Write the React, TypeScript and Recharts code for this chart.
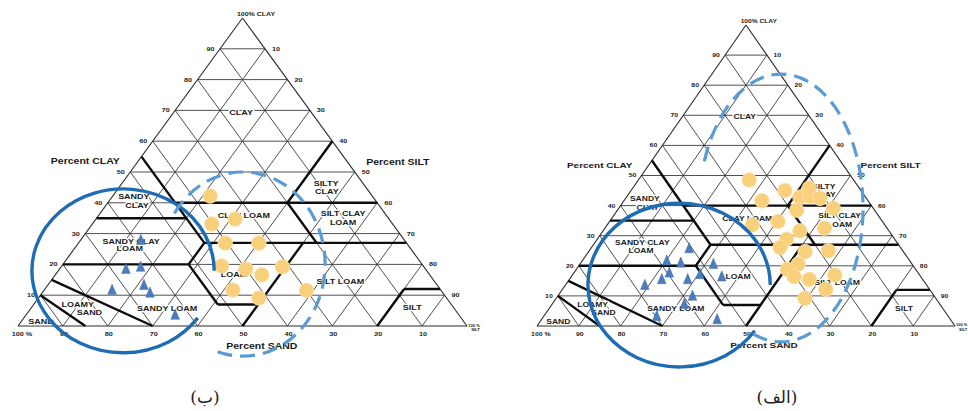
import React from 'react';
import { ScatterChart, Scatter, XAxis, YAxis, ReferenceLine } from 'recharts';

// ---------- data ----------
// percent steps of the triangular grid (clay, silt and sand lines)
const GRID_TICKS = [10, 20, 30, 40, 50, 60, 70, 80, 90];
// sand tick labels along the base
const SAND_TICKS = [100, 90, 80, 70, 60, 50, 40, 30, 20, 10];

// USDA texture-class boundaries: [sand1, clay1, sand2, clay2] (percent)
const BOUNDARIES: [number, number, number, number][] = [
  [0, 60, 20, 40],
  [0, 40, 45, 40],
  [45, 27, 45, 55],
  [45, 35, 65, 35],
  [0, 27, 45, 27],
  [20, 27, 20, 40],
  [52, 20, 45, 27],
  [80, 20, 52, 20],
  [52, 20, 52, 7],
  [52, 7, 43, 7],
  [50, 0, 23, 27],
  [20, 0, 8, 12],
  [8, 12, 0, 12],
  [85, 15, 70, 0],
  [90, 10, 85, 0],
];

// class names, anchored in triangle units (x = silt + clay/2, y = clay)
const CLASS_LABELS = [
  { text: 'CLAY', x: 49.7, y: 69.5 },
  { text: 'SILTY', x: 68.6, y: 46.4 },
  { text: 'CLAY', x: 68.8, y: 43.8 },
  { text: 'SANDY', x: 25.8, y: 42.2 },
  { text: 'CLAY', x: 26.5, y: 39.3 },
  { text: 'CLAY LOAM', x: 50.3, y: 35.8 },
  { text: 'SILT CLAY', x: 72.4, y: 36.6 },
  { text: 'LOAM', x: 72.4, y: 33.7 },
  { text: 'SANDY CLAY', x: 25.2, y: 27.6 },
  { text: 'LOAM', x: 24.9, y: 25.2 },
  { text: 'LOAM', x: 48.1, y: 16.6 },
  { text: 'SILT LOAM', x: 71.8, y: 14.6 },
  { text: 'LOAMY', x: 13.3, y: 7.0 },
  { text: 'SAND', x: 15.9, y: 4.4 },
  { text: 'SANDY LOAM', x: 33.2, y: 5.7 },
  { text: 'SAND', x: 5.1, y: 1.4 },
  { text: 'SILT', x: 87.8, y: 5.9 },
];

const AXIS_TITLES = [
  { text: 'Percent  CLAY', x: 15.0, y: 53.6 },
  { text: 'Percent  SILT', x: 84.6, y: 53.3 },
  { text: 'Percent SAND', x: 54.3, y: -6.5 },
];

// samples: sand %, clay %
const B_CIRCLES = [
  { sand: 36.1, clay: 42.2 }, { sand: 40.3, clay: 33.1 }, { sand: 34.3, clay: 34.7 },
  { sand: 40.4, clay: 26.9 }, { sand: 32.9, clay: 26.9 }, { sand: 44.9, clay: 19.5 },
  { sand: 40.0, clay: 18.5 }, { sand: 37.4, clay: 16.6 }, { sand: 31.5, clay: 19.2 },
  { sand: 46.3, clay: 11.7 }, { sand: 41.8, clay: 9.1 }, { sand: 30.0, clay: 11.5 },
];
const B_TRIANGLES = [
  { sand: 58.7, clay: 27.9 }, { sand: 66.7, clay: 18.5 }, { sand: 63.1, clay: 19.2 },
  { sand: 73.2, clay: 11.7 }, { sand: 65.3, clay: 13.3 }, { sand: 65.2, clay: 10.8 },
  { sand: 63.2, clay: 3.6 },
];
const A_CIRCLES = [
  { sand: 25.0, clay: 48.5 }, { sand: 25.4, clay: 41.6 }, { sand: 18.2, clay: 45.0 },
  { sand: 15.7, clay: 42.8 }, { sand: 13.2, clay: 43.0 }, { sand: 11.1, clay: 42.4 },
  { sand: 12.0, clay: 45.8 }, { sand: 9.6, clay: 39.1 }, { sand: 18.6, clay: 38.5 },
  { sand: 31.7, clay: 33.6 }, { sand: 25.0, clay: 34.7 }, { sand: 21.3, clay: 31.6 },
  { sand: 15.0, clay: 32.5 }, { sand: 25.9, clay: 28.8 }, { sand: 28.8, clay: 26.1 },
  { sand: 23.5, clay: 24.7 }, { sand: 17.8, clay: 25.0 }, { sand: 27.2, clay: 20.6 },
  { sand: 30.7, clay: 18.8 }, { sand: 30.3, clay: 16.4 }, { sand: 27.1, clay: 15.5 },
  { sand: 20.3, clay: 16.9 }, { sand: 24.8, clay: 12.2 }, { sand: 31.3, clay: 9.2 },
];
const A_TRIANGLES = [
  { sand: 50.7, clay: 25.8 }, { sand: 58.1, clay: 21.7 }, { sand: 55.1, clay: 21.0 },
  { sand: 47.5, clay: 20.6 }, { sand: 59.5, clay: 17.7 }, { sand: 62.4, clay: 15.5 },
  { sand: 56.2, clay: 15.5 }, { sand: 52.4, clay: 17.2 }, { sand: 47.6, clay: 16.4 },
  { sand: 67.4, clay: 13.6 }, { sand: 57.8, clay: 10.0 }, { sand: 61.1, clay: 7.3 },
  { sand: 69.7, clay: 3.3 }, { sand: 55.8, clay: 2.2 },
];

// hand-drawn groupings (triangle units, angles in degrees)
const B_ELLIPSES = [
  { x: 23.4, y: 17.9, rx: 20.3, ry: 26.6, from: 0, to: 325, dashed: false },
  { x: 50.1, y: 20.1, rx: 18.3, ry: 29.9, from: -108, to: 149, dashed: true },
];
const A_ELLIPSES = [
  { x: 34.0, y: 13.6, rx: 21.8, ry: 27.2, from: 0, to: 326, dashed: false },
  { x: 58.4, y: 39.2, rx: 19.6, ry: 44.5, from: -110, to: 162, dashed: true },
];

// ---------- layout ----------
const H = 411;
type Geo = { width: number; x0: number; base: number; sx: number; sy: number; k: number };
const GEO_B: Geo = { width: 484, x0: 18, base: 326, sx: 4.49, sy: 3.08, k: 1 };
const GEO_A: Geo = { width: 484, x0: 53, base: 326, sx: 4.18, sy: 3.01, k: 0.95 };
const STRETCH = 1.25;
const FONT = "'Liberation Sans', Arial, Helvetica, sans-serif";

const toXY = (sand: number, clay: number) => ({ x: 100 - sand - clay / 2, y: clay });

type TOpts = { size: number; halo?: boolean; anchor?: 'start' | 'middle' | 'end'; dx?: number; dy?: number; stretch?: number };
const textShape = (o: TOpts) => (p: any) => {
  const { cx, cy, payload } = p;
  if (cx == null || cy == null) return <g />;
  const dx = (o.dx ?? 0) + (payload.dx ?? 0);
  const dy = (o.dy ?? 0) + (payload.dy ?? 0);
  return (
    <text
      transform={`translate(${cx + dx},${cy + dy}) scale(${o.stretch ?? STRETCH},1)`}
      x={0}
      y={o.size * 0.36}
      textAnchor={o.anchor ?? 'middle'}
      fontSize={o.size}
      fontFamily={FONT}
      fontWeight="bold"
      fill="#1b1b1b"
      stroke={o.halo ? '#ffffff' : 'none'}
      strokeWidth={o.halo ? 2.4 : 0}
      strokeLinejoin="round"
      paintOrder="stroke"
    >
      {payload.text}
    </text>
  );
};

const circleShape = (p: any) => {
  const { cx, cy } = p;
  if (cx == null) return <g />;
  return <circle cx={cx} cy={cy} r={7.3} fill="#F8CF7B" stroke="#FBE2AE" strokeWidth={0.8} />;
};

const triShape = (p: any) => {
  const { cx, cy } = p;
  if (cx == null) return <g />;
  return (
    <path
      d={`M${cx},${cy - 5.8} L${cx + 4.3},${cy + 4.4} L${cx - 4.3},${cy + 4.4} Z`}
      fill="#4A7DBA"
      stroke="#3F6FA8"
      strokeWidth={0.5}
    />
  );
};

const ellipseShape = (geo: Geo) => (p: any) => {
  const { cx, cy, payload: e } = p;
  if (cx == null) return <g />;
  const rx = e.rx * geo.sx;
  const ry = e.ry * geo.sy;
  const a1 = (e.from * Math.PI) / 180;
  const a2 = (e.to * Math.PI) / 180;
  const x1 = cx + rx * Math.cos(a1);
  const y1 = cy - ry * Math.sin(a1);
  const x2 = cx + rx * Math.cos(a2);
  const y2 = cy - ry * Math.sin(a2);
  const large = e.to - e.from > 180 ? 1 : 0;
  return (
    <path
      d={`M${x1},${y1} A${rx},${ry} 0 ${large} 0 ${x2},${y2}`}
      fill="none"
      stroke={e.dashed ? '#5B9BD5' : '#1E6DB4'}
      strokeWidth={e.dashed ? 3.2 : 3.4}
      strokeDasharray={e.dashed ? '15 8' : undefined}
      strokeLinecap="butt"
    />
  );
};

type Pt = { sand: number; clay: number };
type Ell = { x: number; y: number; rx: number; ry: number; from: number; to: number; dashed: boolean };

function Ternary({ geo, circles, triangles, ellipses }: { geo: Geo; circles: Pt[]; triangles: Pt[]; ellipses: Ell[] }) {
  const k = geo.k;
  const xDomain = [-geo.x0 / geo.sx, (geo.width - geo.x0) / geo.sx];
  const yDomain = [(geo.base - H) / geo.sy, geo.base / geo.sy];

  const grid: { x: number; y: number }[][] = [];
  GRID_TICKS.forEach((c) => {
    grid.push([{ x: c / 2, y: c }, { x: 100 - c / 2, y: c }]);
    grid.push([{ x: c, y: 0 }, { x: c + (100 - c) / 2, y: 100 - c }]);
    grid.push([{ x: 100 - c, y: 0 }, { x: (100 - c) / 2, y: 100 - c }]);
  });
  const edges = [
    [{ x: 0, y: 0 }, { x: 100, y: 0 }],
    [{ x: 0, y: 0 }, { x: 50, y: 100 }],
    [{ x: 100, y: 0 }, { x: 50, y: 100 }],
  ];
  const bounds = BOUNDARIES.map(([s1, c1, s2, c2]) => [toXY(s1, c1), toXY(s2, c2)]);

  const clayTicks = GRID_TICKS.map((c) => ({ x: c / 2, y: c, text: String(c) }));
  const siltTicks = GRID_TICKS.map((s) => ({ x: 100 - (100 - s) / 2, y: 100 - s, text: String(s) }));
  const sandTicks = SAND_TICKS.map((d) => ({
    x: 100 - d,
    y: 0,
    text: d === 100 ? '100 %' : String(d),
    dx: d === 100 ? 4 * k : 1,
  }));
  const apexText = [{ x: 50, y: 100, text: '100% CLAY', dx: 13.5 * k, dy: -4 * k }];
  const cornerTexts = [
    { x: 100, y: 0, text: '100 %', dx: 7 * k, dy: -1 },
    { x: 100, y: 0, text: 'SILT', dx: 8.5 * k, dy: 3.3 },
  ];

  const circleData = circles.map((p) => toXY(p.sand, p.clay));
  const triData = triangles.map((p) => toXY(p.sand, p.clay));

  return (
    <ScatterChart width={geo.width} height={H} margin={{ top: 0, right: 0, bottom: 0, left: 0 }}>
      <XAxis type="number" dataKey="x" domain={xDomain} hide allowDataOverflow />
      <YAxis type="number" dataKey="y" domain={yDomain} hide allowDataOverflow />
      {grid.map((s, i) => (
        <ReferenceLine key={'g' + i} segment={s} stroke="#3c3c3c" strokeWidth={0.9} ifOverflow="visible" />
      ))}
      {edges.map((s, i) => (
        <ReferenceLine key={'e' + i} segment={s} stroke="#2a2a2a" strokeWidth={1.1} ifOverflow="visible" />
      ))}
      {bounds.map((s, i) => (
        <ReferenceLine key={'b' + i} segment={s} stroke="#0d0d0d" strokeWidth={2.4} ifOverflow="visible" />
      ))}
      <Scatter data={clayTicks} shape={textShape({ size: 5.8 * k, dx: -9.5 * k })} isAnimationActive={false} />
      <Scatter data={siltTicks} shape={textShape({ size: 5.8 * k, dx: 11 * k })} isAnimationActive={false} />
      <Scatter data={sandTicks} shape={textShape({ size: 5.8 * k, dy: 8 })} isAnimationActive={false} />
      <Scatter data={apexText} shape={textShape({ size: 5.6 * k })} isAnimationActive={false} />
      <Scatter data={cornerTexts} shape={textShape({ size: 4.2 * k, stretch: 1 })} isAnimationActive={false} />
      <Scatter data={AXIS_TITLES} shape={textShape({ size: 8.4 * k })} isAnimationActive={false} />
      <Scatter data={CLASS_LABELS} shape={textShape({ size: 7.2 * k, halo: true })} isAnimationActive={false} />
      <Scatter data={triData} shape={triShape} isAnimationActive={false} />
      <Scatter data={circleData} shape={circleShape} isAnimationActive={false} />
      <Scatter data={ellipses} shape={ellipseShape(geo)} isAnimationActive={false} />
    </ScatterChart>
  );
}

const captionStyle: React.CSSProperties = {
  position: 'absolute',
  top: 384,
  width: 100,
  textAlign: 'center',
  fontFamily: "'DejaVu Serif', 'DejaVu Sans', 'Noto Sans', serif",
  fontSize: 17,
  lineHeight: '26px',
  color: '#222',
};

export default function App() {
  return (
    <div style={{ position: 'absolute', left: 0, top: 0, width: 968, height: H, background: '#fff', overflow: 'hidden' }}>
      <div style={{ position: 'absolute', left: 0, top: 0 }}>
        <Ternary geo={GEO_B} circles={B_CIRCLES} triangles={B_TRIANGLES} ellipses={B_ELLIPSES} />
      </div>
      <div style={{ position: 'absolute', left: 484, top: 0 }}>
        <Ternary geo={GEO_A} circles={A_CIRCLES} triangles={A_TRIANGLES} ellipses={A_ELLIPSES} />
      </div>
      <div style={{ ...captionStyle, left: 155 }}>(ب)</div>
      <div style={{ ...captionStyle, left: 727 }}>(الف)</div>
    </div>
  );
}
